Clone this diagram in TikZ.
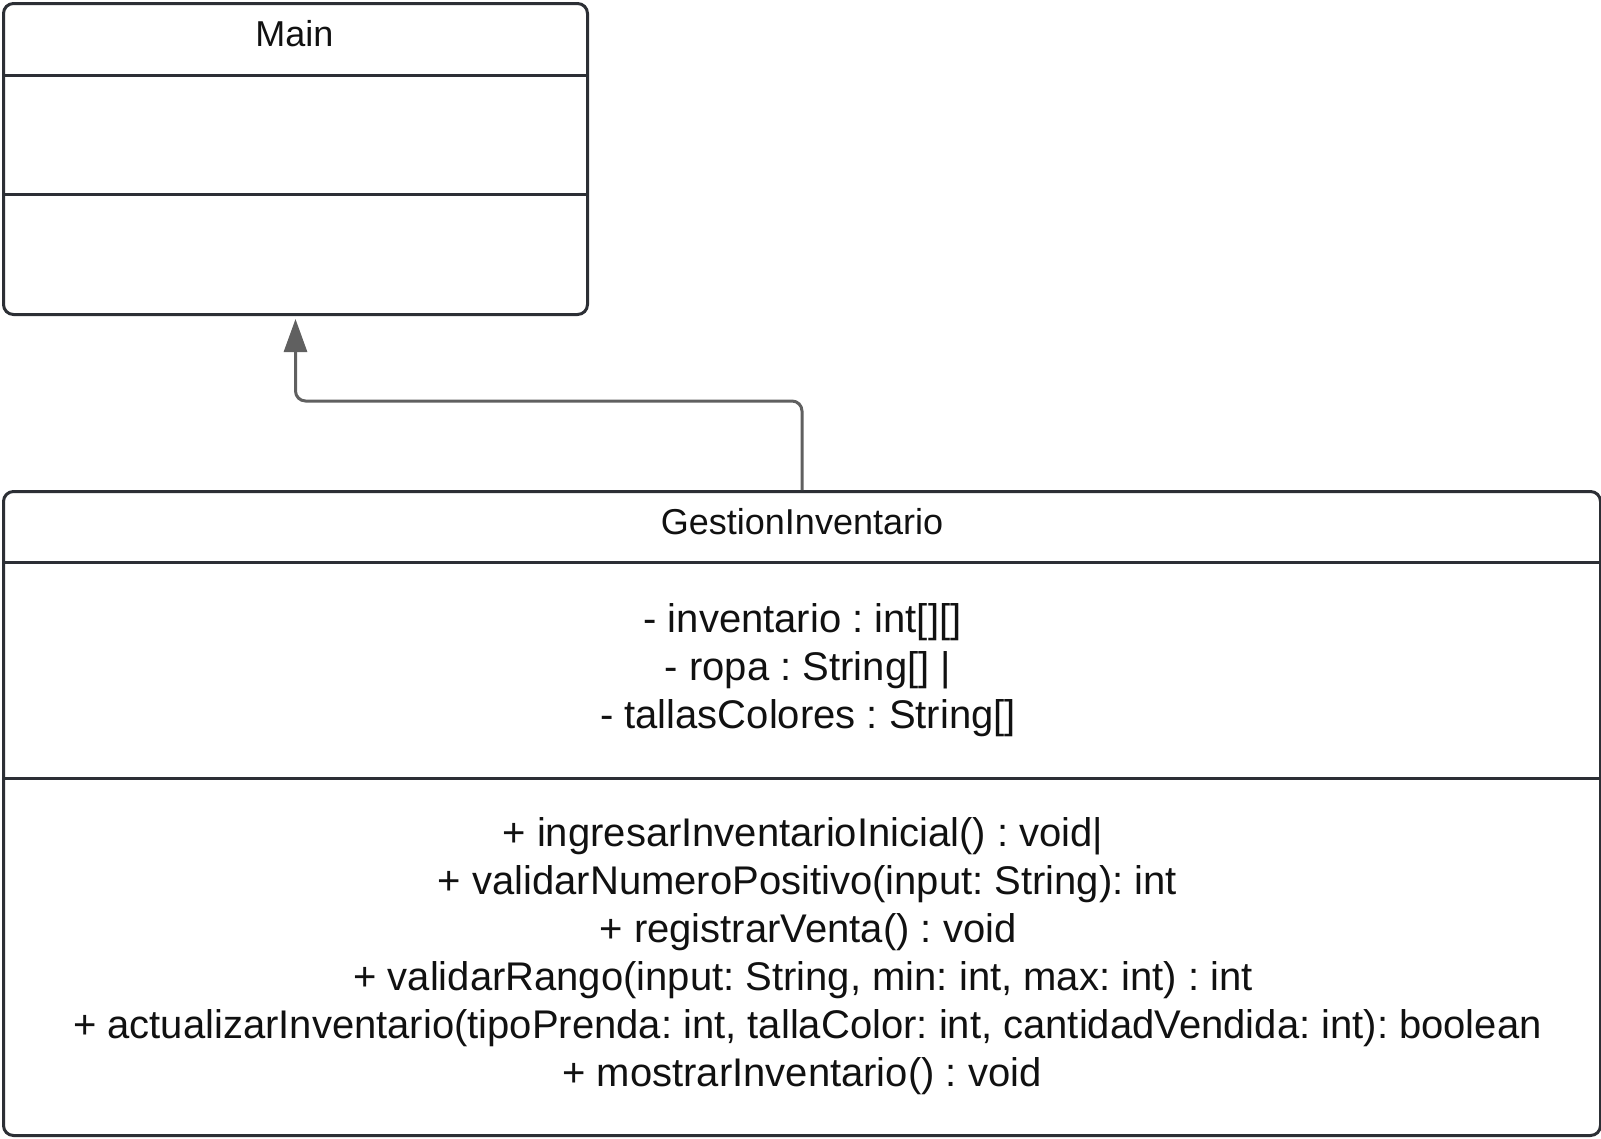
\documentclass[tikz,border=0pt]{standalone}
\usepackage{fontspec}
\setmainfont{Liberation Sans}
\usetikzlibrary{arrows.meta}
\definecolor{boxline}{HTML}{2C2F35}
\definecolor{conn}{HTML}{606060}
\definecolor{txt}{HTML}{111111}
\frenchspacing
\begin{document}
\begin{tikzpicture}[x=1pt,y=-1pt,
  classbox/.style={draw=boxline, line width=3pt, rounded corners=10pt, fill=white, inner sep=0pt, anchor=north west},
  divider/.style={draw=boxline, line width=3pt},
  titletext/.style={font=\fontsize{36}{43}\selectfont, text=txt, inner sep=0pt, anchor=base},
  bodytext/.style={font=\fontsize{40}{48}\selectfont, text=txt, inner sep=0pt, anchor=base},
  inherit/.style={draw=conn, line width=3pt, rounded corners=10pt, -{Triangle[length=33pt,width=23pt]}, shorten >=3pt}
]
\useasboundingbox (0,0) rectangle (1601,1138);

% Main class
\node[classbox, minimum width=584pt, minimum height=311pt] (main) at (2,2) {};
\node[titletext] (maintitle) at (294.5,46.5) {Main};
\draw[divider] (main.west |- 0,75.5) -- (main.east |- 0,75.5);
\draw[divider] (main.west |- 0,194) -- (main.east |- 0,194);

% GestionInventario class
\node[classbox, minimum width=1597pt, minimum height=644pt] (gi) at (2,490) {};
\node[titletext] (gititle) at (802,534) {GestionInventario};
\draw[divider] (gi.west |- 0,562.5) -- (gi.east |- 0,562.5);
\draw[divider] (gi.west |- 0,778) -- (gi.east |- 0,778);

\node[bodytext] (a1) at (802.5,632.5) {- inventario : int[][]};
\node[bodytext] (a2) at (808,680.5) {- ropa : String[] |};
\node[bodytext] (a3) at (808,728.5) {- tallasColores : String[]};

\node[bodytext] (m1) at (803,846) {+ ingresarInventarioInicial() : void|};
\node[bodytext] (m2) at (807.5,894) {+ validarNumeroPositivo(input: String): int};
\node[bodytext] (m3) at (808,942) {+ registrarVenta() : void};
\node[bodytext] (m4) at (803,990) {+ validarRango(input: String, min: int, max: int) : int};
\node[bodytext] (m5) at (807.5,1038) {+ actualizarInventario(tipoPrenda: int, tallaColor: int, cantidadVendida: int): boolean};
\node[bodytext] (m6) at (802,1086) {+ mostrarInventario() : void};

% Inheritance connector
\coordinate (bend) at (0,401);
\draw[inherit] (gi.north) -- (gi.north |- bend) -- (main.south |- bend) -- (main.south);
\end{tikzpicture}
\end{document}
